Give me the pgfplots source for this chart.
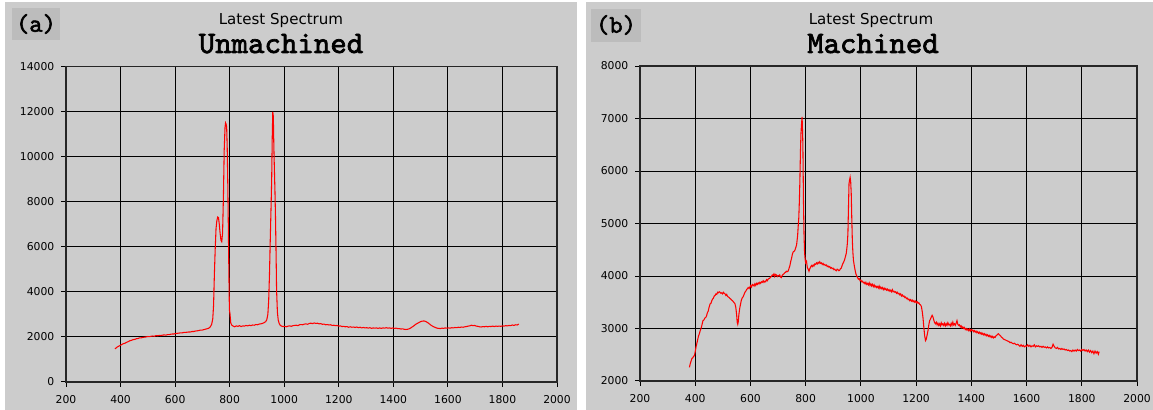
\documentclass[border=0pt]{standalone}
\usepackage{pgfplots}
\pgfplotsset{compat=1.18}
\usepackage{fontspec}
\setmainfont{DejaVu Sans}
\newfontfamily\cour{lmmono10-regular.otf}[FakeBold=2.2]
\definecolor{panelgray}{RGB}{204,204,204}
\definecolor{boxgray}{RGB}{188,188,188}

\pgfplotsset{
  specstyle/.style={
    scale only axis,
    anchor=south west,
    xmin=200, xmax=2000,
    xtick={200,400,...,2000},
    grid=major,
    major grid style={black, line width=0.75pt},
    axis line style={black!85, line width=1pt},
    tick align=outside,
    tick pos=left,
    major tick length=3.75pt,
    tick style={black, line width=0.75pt},
    scaled ticks=false,
    /pgf/number format/1000 sep={},
    /pgf/number format/assume math mode=true,
    ticklabel style={font=\fontsize{8.1}{9}\selectfont},
    xticklabel style={yshift=-2.5pt},
    yticklabel style={xshift=-1.5pt},
  }
}

\begin{document}
\begin{tikzpicture}[x=0.75pt,y=0.75pt]
\useasboundingbox (0,0) rectangle (1153,410);
\fill[white] (0,0) rectangle (1153,410);
\fill[panelgray] (5,0) rectangle (577,408);
\fill[panelgray] (586,0) rectangle (1153,408);
% label boxes
\fill[boxgray] (12,370) rectangle (60,402);
\node[font=\cour\fontsize{19}{19}\selectfont, inner sep=0pt] at (36,386) {(a)};
\fill[boxgray] (591,368) rectangle (641,401);
\node[font=\cour\fontsize{19}{19}\selectfont, inner sep=0pt] at (616,385) {(b)};
% titles
\node[anchor=base, font=\fontsize{11.3}{12}\selectfont, inner sep=0pt] at (281,385) {Latest Spectrum};
\node[anchor=base, font=\cour\fontsize{23.5}{24}\selectfont, inner sep=0pt] at (281,357) {Unmachined};
\node[anchor=base, font=\fontsize{11.3}{12}\selectfont, inner sep=0pt] at (871,385) {Latest Spectrum};
\node[anchor=base, font=\cour\fontsize{23.5}{24}\selectfont, inner sep=0pt] at (873,357) {Machined};

\begin{axis}[specstyle,
  at={(49.5pt,21pt)}, width=368.25pt, height=236.6pt,
  ymin=0, ymax=14000, ytick={0,2000,...,14000}]
\addplot[red, line width=0.8pt] coordinates {
(380,1470)(386,1540)(392,1580)(398,1620)(404,1660)(410,1700)(416,1720)(422,1760)(428,1790)(434,1830)
(440,1850)(446,1880)(452,1890)(458,1920)(464,1930)(470,1960)(476,1960)(482,1980)(488,1990)(494,2000)
(500,2020)(506,2010)(512,2030)(518,2040)(524,2030)(530,2060)(536,2050)(542,2070)(548,2060)(554,2080)
(560,2090)(566,2080)(572,2100)(578,2100)(584,2120)(590,2130)(596,2130)(602,2150)(608,2160)(614,2170)
(620,2180)(626,2180)(632,2200)(638,2200)(644,2210)(650,2220)(656,2220)(662,2240)(668,2240)(674,2260)
(680,2270)(686,2280)(692,2300)(698,2300)(704,2320)(710,2340)(716,2360)(722,2380)(728,2430)(734,2560)
(738,2800)(741,3400)(744,4800)(747,5900)(750,6800)(753,7150)(756,7320)(759,7300)(762,7000)(765,6600)
(768,6300)(771,6230)(774,6600)(777,8150)(780,10300)(783,11300)(785,11500)(787,11450)(789,11300)(791,10400)
(793,8900)(795,7000)(797,5000)(799,3200)(801,3050)(804,2620)(808,2520)(813,2480)(818,2450)(824,2490)
(830,2470)(836,2500)(842,2460)(848,2490)(854,2480)(860,2510)(866,2490)(872,2520)(878,2500)(884,2530)
(890,2520)(896,2550)(902,2540)(908,2570)(914,2580)(920,2600)(926,2630)(932,2680)(936,2760)(940,3000)
(943,3600)(946,4800)(949,6400)(952,7900)(954,8960)(956,10800)(958,11990)(960,11800)(962,10440)(964,9400)
(966,8500)(968,7300)(970,5800)(972,4080)(975,3100)(978,2750)(982,2580)(986,2510)(990,2480)(996,2460)
(1002,2470)(1008,2450)(1014,2480)(1020,2490)(1026,2470)(1032,2500)(1038,2510)(1044,2520)(1050,2500)(1056,2540)
(1062,2550)(1068,2540)(1074,2570)(1080,2580)(1086,2560)(1092,2600)(1098,2610)(1104,2590)(1110,2620)(1116,2600)
(1122,2610)(1128,2580)(1134,2590)(1140,2560)(1146,2570)(1152,2540)(1158,2550)(1164,2530)(1170,2540)(1176,2510)
(1182,2520)(1188,2500)(1194,2510)(1200,2480)(1206,2490)(1212,2460)(1218,2470)(1224,2450)(1230,2460)(1236,2430)
(1242,2450)(1248,2430)(1254,2440)(1260,2420)(1266,2440)(1272,2410)(1278,2430)(1284,2400)(1290,2420)(1296,2400)
(1302,2410)(1308,2390)(1314,2410)(1320,2380)(1326,2400)(1332,2390)(1338,2400)(1344,2380)(1350,2400)(1356,2380)
(1362,2400)(1368,2390)(1374,2410)(1380,2390)(1386,2400)(1392,2380)(1398,2400)(1404,2380)(1410,2390)(1416,2370)
(1422,2370)(1428,2350)(1434,2360)(1440,2340)(1446,2330)(1452,2340)(1458,2360)(1464,2400)(1470,2450)(1476,2500)
(1482,2560)(1488,2600)(1494,2640)(1500,2680)(1506,2700)(1512,2710)(1518,2690)(1524,2650)(1530,2600)(1536,2540)
(1542,2490)(1548,2450)(1554,2420)(1560,2390)(1566,2380)(1572,2370)(1578,2390)(1584,2380)(1590,2400)(1596,2390)
(1602,2400)(1608,2390)(1614,2410)(1620,2400)(1626,2420)(1632,2410)(1638,2430)(1644,2420)(1650,2440)(1656,2430)
(1662,2450)(1668,2460)(1674,2480)(1680,2490)(1686,2520)(1692,2500)(1698,2510)(1704,2480)(1710,2470)(1716,2450)
(1722,2440)(1728,2460)(1734,2450)(1740,2470)(1746,2450)(1752,2470)(1758,2460)(1764,2480)(1770,2460)(1776,2480)
(1782,2470)(1788,2480)(1794,2470)(1800,2490)(1806,2480)(1812,2500)(1818,2490)(1824,2510)(1830,2500)(1836,2530)
(1842,2510)(1848,2540)(1854,2530)(1860,2570)
};
\end{axis}

\begin{axis}[specstyle,
  at={(480pt,21.75pt)}, width=372.75pt, height=236.25pt,
  ymin=2000, ymax=8000, ytick={2000,3000,...,8000}]
\addplot[red, line width=0.8pt] coordinates {
(379,2260)(382,2330)(385,2380)(388,2430)(391,2440)(394,2470)(397,2480)(400,2560)(403,2650)(406,2720)
(409,2790)(412,2860)(415,2900)(418,2960)(421,3000)(424,3060)(428,3150)(431,3160)(435,3200)(438,3210)
(441,3240)(444,3300)(447,3330)(450,3400)(454,3470)(457,3480)(460,3530)(463,3560)(466,3580)(469,3620)
(472,3630)(475,3660)(478,3650)(481,3690)(484,3680)(487,3700)(490,3690)(493,3670)(496,3680)(499,3660)
(502,3690)(505,3670)(508,3660)(511,3630)(514,3650)(517,3610)(520,3600)(523,3590)(526,3570)(529,3560)
(532,3540)(535,3530)(538,3510)(541,3490)(544,3470)(547,3400)(550,3260)(552,3120)(554,3080)(556,3130)
(558,3260)(561,3380)(564,3460)(567,3540)(570,3580)(574,3610)(577,3650)(580,3690)(583,3710)(586,3740)
(589,3760)(592,3780)(595,3760)(598,3790)(601,3820)(604,3790)(607,3840)(610,3830)(613,3810)(616,3850)
(619,3820)(622,3860)(625,3840)(628,3870)(631,3850)(634,3880)(637,3860)(640,3890)(643,3880)(646,3910)
(649,3880)(652,3900)(655,3890)(658,3930)(661,3910)(664,3940)(667,3950)(670,3960)(673,3980)(676,3990)
(679,4020)(682,4010)(685,4040)(688,3990)(691,4030)(694,4020)(697,3990)(700,4010)(703,4000)(706,4020)
(709,3980)(712,3970)(715,4010)(718,4030)(721,4040)(724,4060)(727,4070)(730,4090)(733,4080)(737,4100)
(740,4150)(743,4200)(746,4280)(749,4340)(752,4420)(755,4460)(758,4470)(761,4490)(764,4540)(767,4590)
(769,4680)(771,4780)(773,4950)(775,5100)(777,5400)(779,5800)(781,6350)(783,6720)(785,6900)(787,7030)
(789,6700)(790,6460)(792,5440)(794,4800)(796,4450)(798,4320)(800,4250)(803,4280)(806,4160)(809,4130)
(812,4090)(815,4140)(818,4170)(821,4200)(824,4180)(827,4210)(830,4190)(833,4230)(836,4220)(839,4250)
(842,4230)(845,4260)(848,4240)(851,4270)(854,4240)(857,4250)(860,4220)(863,4240)(866,4210)(869,4220)
(872,4200)(875,4210)(878,4180)(881,4190)(884,4170)(887,4180)(890,4150)(893,4160)(896,4140)(899,4150)
(902,4120)(905,4130)(908,4110)(911,4100)(914,4130)(917,4120)(920,4100)(923,4110)(926,4140)(929,4150)
(932,4200)(935,4240)(938,4270)(941,4310)(944,4370)(947,4430)(949,4520)(951,4620)(953,4810)(955,5300)
(957,5760)(959,5830)(961,5880)(963,5800)(965,5570)(967,5100)(969,4680)(971,4450)(973,4300)(976,4200)
(979,4110)(982,4040)(985,4000)(988,3970)(991,3940)(994,3950)(997,3910)(1000,3920)(1003,3890)(1006,3900)
(1009,3870)(1012,3880)(1015,3850)(1018,3880)(1021,3840)(1024,3860)(1027,3830)(1030,3870)(1033,3820)(1036,3850)
(1039,3810)(1042,3840)(1045,3800)(1048,3830)(1051,3790)(1054,3810)(1057,3780)(1060,3800)(1063,3770)(1066,3810)
(1069,3760)(1072,3790)(1075,3760)(1078,3780)(1081,3740)(1084,3770)(1087,3740)(1090,3760)(1093,3730)(1096,3750)
(1099,3720)(1102,3740)(1105,3710)(1108,3730)(1111,3700)(1114,3740)(1117,3700)(1120,3710)(1123,3690)(1126,3700)
(1129,3670)(1132,3690)(1135,3660)(1138,3670)(1141,3640)(1144,3660)(1147,3620)(1150,3640)(1153,3610)(1156,3620)
(1159,3590)(1162,3600)(1165,3570)(1168,3580)(1171,3550)(1174,3560)(1177,3530)(1180,3550)(1183,3520)(1186,3540)
(1189,3510)(1192,3530)(1195,3500)(1198,3520)(1201,3490)(1204,3510)(1207,3480)(1210,3490)(1213,3460)(1216,3450)
(1219,3420)(1222,3330)(1225,3200)(1228,3020)(1231,2860)(1234,2770)(1237,2800)(1240,2880)(1243,2960)(1246,3070)
(1249,3150)(1252,3180)(1255,3220)(1258,3250)(1261,3220)(1264,3160)(1267,3110)(1270,3090)(1273,3120)(1276,3070)
(1279,3100)(1282,3060)(1285,3090)(1288,3050)(1291,3110)(1294,3070)(1297,3090)(1300,3060)(1303,3100)(1306,3050)
(1309,3090)(1312,3060)(1315,3110)(1318,3070)(1321,3080)(1324,3050)(1327,3100)(1330,3060)(1333,3120)(1336,3070)
(1339,3090)(1342,3060)(1345,3100)(1348,3150)(1351,3080)(1354,3060)(1357,3070)(1360,3030)(1363,3050)(1366,3010)
(1369,3030)(1372,3000)(1375,3020)(1378,2980)(1381,3000)(1384,2970)(1387,2990)(1390,2960)(1393,2990)(1396,2950)
(1399,2980)(1402,2960)(1405,2970)(1408,2940)(1411,2960)(1414,2930)(1417,2950)(1420,2920)(1423,2940)(1426,2910)
(1429,2930)(1432,2900)(1435,2920)(1438,2890)(1441,2910)(1444,2880)(1447,2900)(1450,2870)(1453,2890)(1456,2860)
(1459,2880)(1462,2850)(1465,2870)(1468,2840)(1471,2860)(1474,2830)(1477,2850)(1480,2820)(1483,2840)(1486,2830)
(1489,2860)(1492,2870)(1495,2890)(1498,2900)(1501,2880)(1504,2870)(1507,2850)(1510,2830)(1513,2820)(1516,2800)
(1520,2790)(1524,2780)(1528,2770)(1532,2760)(1536,2750)(1540,2730)(1544,2740)(1548,2720)(1552,2710)(1556,2720)
(1560,2700)(1564,2690)(1568,2700)(1572,2680)(1576,2660)(1580,2690)(1584,2660)(1588,2680)(1592,2650)(1596,2670)
(1600,2660)(1604,2690)(1608,2660)(1612,2680)(1616,2650)(1620,2670)(1624,2660)(1628,2690)(1632,2650)(1636,2670)
(1640,2660)(1644,2670)(1648,2650)(1652,2660)(1656,2640)(1660,2660)(1664,2640)(1668,2650)(1672,2630)(1676,2650)
(1680,2630)(1684,2640)(1688,2620)(1692,2640)(1696,2700)(1700,2660)(1704,2630)(1708,2620)(1712,2640)(1716,2610)
(1720,2620)(1724,2600)(1728,2620)(1732,2600)(1736,2610)(1740,2590)(1744,2600)(1748,2580)(1752,2590)(1756,2570)
(1760,2580)(1764,2560)(1768,2590)(1772,2570)(1776,2590)(1780,2570)(1784,2600)(1788,2580)(1792,2590)(1796,2570)
(1800,2600)(1804,2580)(1808,2600)(1812,2570)(1816,2590)(1820,2560)(1824,2590)(1828,2550)(1832,2580)(1836,2540)
(1840,2570)(1844,2520)(1848,2570)(1852,2530)(1856,2560)(1860,2510)(1863,2560)
};
\end{axis}
\end{tikzpicture}
\end{document}
